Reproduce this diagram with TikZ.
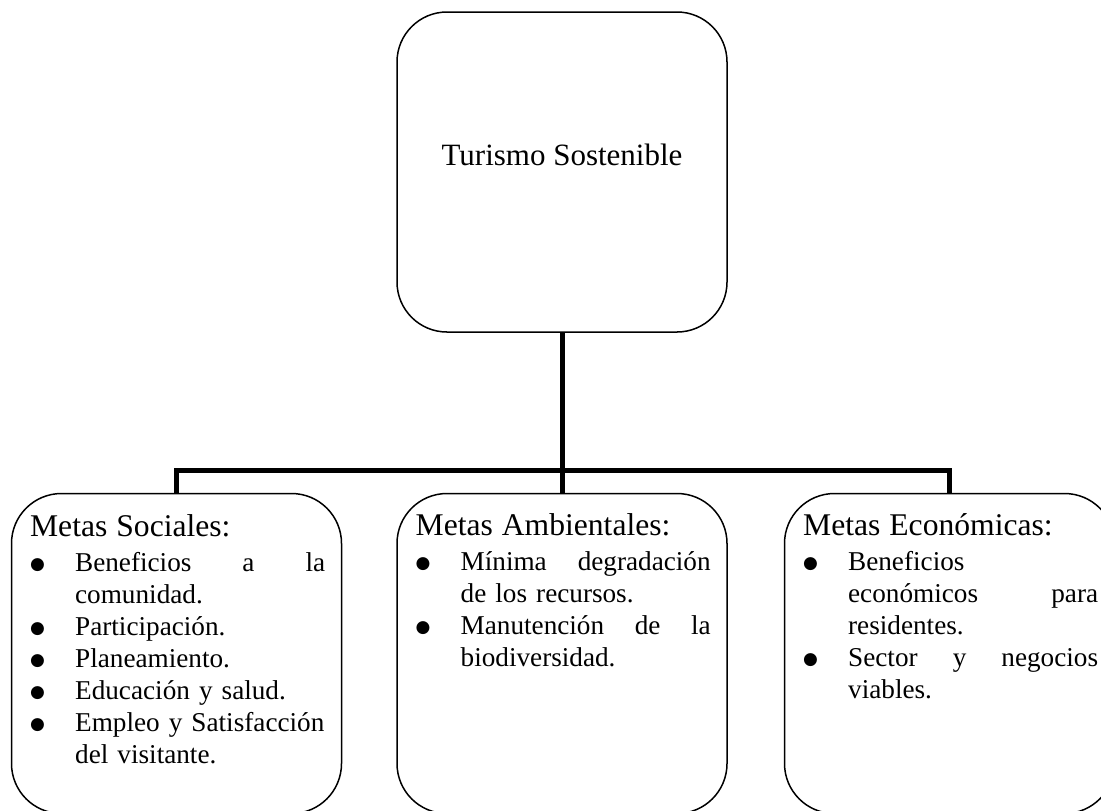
\documentclass[tikz,border=0pt]{standalone}
\usepackage{fontspec}
\setmainfont{Liberation Serif}
\newfontfamily\simbolos{DejaVu Sans}
\usetikzlibrary{positioning, calc}
\tikzset{
  caja/.style={
    draw,
    rectangle,
    rounded corners=25pt,
    line width=0.75pt,
    minimum width=165pt,
    minimum height=160pt,
    inner sep=0pt
  },
  lista/.style={
    anchor=base west,
    inner sep=0pt,
    text width=147.5pt,
    font=\fontsize{13.6}{16}\selectfont
  },
  linea/.style={
    line width=2.5pt
  }
}
\newcommand{\titulo}[1]{\noindent{\fontsize{15.8}{16}\selectfont #1}\par\vspace{1.5pt}}
\newcommand{\vineta}{\raisebox{1pt}{\simbolos\fontsize{8.5}{10}\selectfont ●}}
\newenvironment{puntos}{%
  \begin{list}{\vineta}{%
    \setlength{\leftmargin}{22.5pt}\setlength{\labelwidth}{22.5pt}%
    \setlength{\labelsep}{0pt}\setlength{\itemindent}{0pt}%
    \setlength{\itemsep}{0pt}\setlength{\parsep}{0pt}%
    \setlength{\topsep}{0pt}\setlength{\partopsep}{0pt}%
    \renewcommand{\makelabel}[1]{##1\hfil}}\raggedright}{\end{list}}

\begin{document}
\begin{tikzpicture}
        \useasboundingbox (0,0) rectangle (550.5pt,-405pt);
        \node[caja] (turismo) at (281pt,-86pt) {};
        \node[anchor=base, font=\fontsize{15.5}{18}\selectfont] (nombre) at ([yshift=3.5pt]turismo.center) {Turismo Sostenible};
        \node[caja, below=80pt of turismo] (ambientales) {};
        \node[caja, left=27pt of ambientales] (sociales) {};
        \node[caja, right=28pt of ambientales] (economicas) {};
        
        \node[lista] (listaS) at ([xshift=9.5pt, yshift=-22pt]sociales.north west) {%
          \titulo{Metas Sociales:}
          \begin{puntos}
            \item Beneficios\hfill a\hfill la\newline comunidad.
            \item Participación.
            \item Planeamiento.
            \item Educación y salud.
            \item \mbox{Empleo y Satisfacción}\newline del visitante.
          \end{puntos}};
        \node[lista] (listaA) at ([xshift=9.5pt, yshift=-21.5pt]ambientales.north west) {%
          \titulo{Metas Ambientales:}
          \begin{puntos}
            \item Mínima\hfill degradación\newline de los recursos.
            \item Manutención\hfill de\hfill la\newline biodiversidad.
          \end{puntos}};
        \node[lista] (listaE) at ([xshift=9.5pt, yshift=-21.5pt]economicas.north west) {%
          \titulo{Metas Económicas:}
          \begin{puntos}
            \item Beneficios\newline económicos\hfill para\newline residentes.
            \item Sector\hfill y\hfill negocios\newline viables.
          \end{puntos}};
        
        \coordinate (barra) at ([yshift=11pt]ambientales.north);
        \draw[linea] (turismo.south) -- (ambientales.north);
        \draw[linea] (sociales.north) |- (barra) -| (economicas.north);
      \end{tikzpicture}
\end{document}
